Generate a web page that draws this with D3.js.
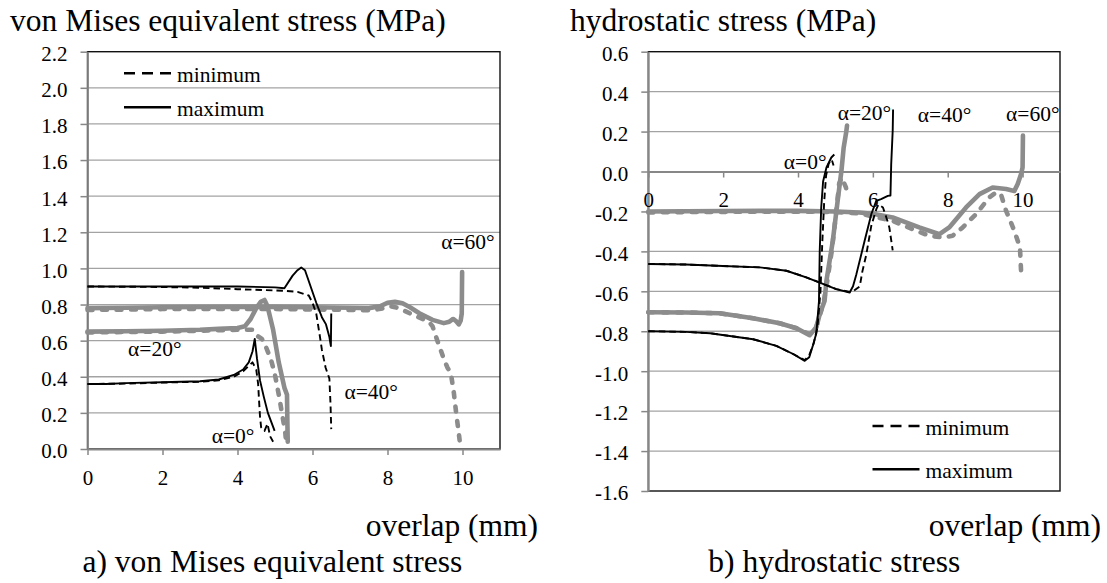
<!DOCTYPE html>
<html><head><meta charset="utf-8">
<script src="https://cdn.jsdelivr.net/npm/d3@7"></script>
<style>
body{margin:0;background:#fff}
svg{display:block}
text{font-family:"Liberation Serif","Times New Roman",Times,serif;fill:#000}
</style>
</head><body>
<svg id="c" width="1107" height="583"></svg>
<script>
// ---------- tick values ----------
const xTicks = [0, 2, 4, 6, 8, 10];
const vmTicks = [0.0, 0.2, 0.4, 0.6, 0.8, 1.0, 1.2, 1.4, 1.6, 1.8, 2.0, 2.2];
const hsTicks = [-1.6, -1.4, -1.2, -1.0, -0.8, -0.6, -0.4, -0.2, 0.0, 0.2, 0.4, 0.6];

// ---------- a) von Mises equivalent stress (MPa) ----------
const vm_a0_max = [[0,0.36],[0.5,0.36],[1,0.365],[2,0.37],[3,0.375],[3.5,0.385],[3.9,0.41],[4.15,0.44],[4.3,0.48],[4.4,0.54],[4.46,0.61],[4.52,0.5],[4.6,0.38],[4.7,0.29],[4.81,0.2],[4.9,0.15],[4.99,0.1]];
const vm_a0_min = [[0,0.36],[1,0.362],[2,0.368],[3,0.372],[3.5,0.38],[3.9,0.4],[4.15,0.43],[4.3,0.46],[4.4,0.48],[4.5,0.44],[4.55,0.36],[4.58,0.25],[4.6,0.18],[4.63,0.12],[4.72,0.1],[4.8,0.14],[4.87,0.07],[4.95,0.04]];
const vm_a40_max = [[0,0.9],[1,0.9],[2,0.9],[3,0.9],[4,0.9],[5,0.895],[5.25,0.89],[5.47,0.96],[5.6,0.99],[5.7,1.005],[5.8,0.99],[5.95,0.9],[6.1,0.81],[6.25,0.73],[6.36,0.69],[6.45,0.62],[6.49,0.57],[6.5,0.75]];
const vm_a40_min = [[0,0.9],[2,0.897],[3,0.893],[4,0.885],[5,0.878],[5.3,0.875],[5.6,0.87],[5.9,0.85],[6.0,0.81],[6.1,0.75],[6.2,0.62],[6.25,0.55],[6.35,0.45],[6.45,0.39],[6.48,0.25],[6.5,0.11]];
const vm_a20_max = [[0,0.65],[1,0.652],[2,0.655],[3,0.66],[3.5,0.665],[4,0.67],[4.2,0.68],[4.35,0.72],[4.5,0.78],[4.62,0.815],[4.72,0.825],[4.8,0.79],[4.95,0.66],[5.1,0.48],[5.25,0.34],[5.32,0.3],[5.33,0.15],[5.34,0.04]];
const vm_a20_min = [[0,0.645],[1,0.648],[2,0.65],[3,0.655],[4,0.66],[4.4,0.66],[4.5,0.63],[4.65,0.61],[4.75,0.57],[4.9,0.49],[5.0,0.41],[5.12,0.28],[5.2,0.18],[5.27,0.1],[5.3,0.03]];
const vm_a60_max = [[0,0.78],[1,0.782],[2,0.785],[3,0.786],[4,0.787],[5,0.787],[6,0.785],[7,0.782],[7.5,0.78],[7.8,0.79],[8.0,0.81],[8.2,0.815],[8.4,0.807],[8.6,0.785],[8.85,0.752],[9.2,0.715],[9.5,0.697],[9.65,0.705],[9.75,0.72],[9.82,0.71],[9.9,0.69],[9.95,0.71],[9.98,0.75],[9.99,0.98]];
const vm_a60_min = [[0,0.77],[1,0.772],[2,0.775],[3,0.776],[4,0.775],[5,0.775],[6,0.773],[7,0.77],[7.6,0.768],[7.9,0.78],[8.1,0.79],[8.3,0.78],[8.66,0.745],[9.1,0.705],[9.2,0.68],[9.33,0.6],[9.5,0.5],[9.6,0.45],[9.69,0.42],[9.77,0.31],[9.83,0.2],[9.9,0.09],[9.95,0.0]];
const vmLabels = [["α=0°",3.31,0.035],["α=20°",1.08,0.515],["α=40°",6.85,0.277],["α=60°",9.43,1.108]];

// ---------- b) hydrostatic stress (MPa) ----------
const hs_a0_max = [[0,-0.8],[1,-0.803],[1.65,-0.81],[2.8,-0.84],[3.42,-0.873],[3.87,-0.914],[4.18,-0.948],[4.3,-0.93],[4.4,-0.87],[4.49,-0.81],[4.56,-0.65],[4.58,-0.4],[4.62,-0.18],[4.67,-0.05],[4.76,0.02],[4.89,0.07],[4.97,0.085]];
const hs_a0_min = [[0,-0.8],[1,-0.803],[1.65,-0.81],[2.8,-0.84],[3.42,-0.873],[3.87,-0.914],[4.18,-0.945],[4.3,-0.92],[4.42,-0.86],[4.52,-0.78],[4.6,-0.6],[4.65,-0.35],[4.7,-0.15],[4.75,-0.02],[4.82,0.04],[4.9,0.06],[4.95,0.03]];
const hs_a40_max = [[0,-0.463],[1,-0.466],[1.82,-0.472],[2.98,-0.48],[3.69,-0.497],[4.22,-0.53],[4.58,-0.556],[5.02,-0.589],[5.38,-0.606],[5.47,-0.575],[5.56,-0.514],[5.78,-0.347],[5.96,-0.213],[6.09,-0.147],[6.22,-0.138],[6.4,-0.122],[6.47,-0.12],[6.49,0.037],[6.53,0.204],[6.54,0.31]];
const hs_a40_min = [[0,-0.463],[1,-0.466],[1.82,-0.472],[2.98,-0.48],[3.69,-0.497],[4.22,-0.53],[4.58,-0.556],[5.02,-0.589],[5.38,-0.603],[5.47,-0.6],[5.65,-0.575],[5.72,-0.5],[5.82,-0.42],[5.96,-0.27],[6.09,-0.19],[6.15,-0.165],[6.27,-0.18],[6.36,-0.23],[6.44,-0.28],[6.53,-0.395]];
const hs_a20_max = [[0,-0.705],[1,-0.706],[1.91,-0.71],[2.8,-0.735],[3.51,-0.76],[3.96,-0.785],[4.31,-0.82],[4.49,-0.78],[4.58,-0.714],[4.71,-0.648],[4.76,-0.547],[4.93,-0.347],[5.07,-0.13],[5.16,0.003],[5.22,0.12],[5.29,0.2],[5.31,0.23]];
const hs_a20_min = [[0,-0.705],[1,-0.706],[1.91,-0.71],[2.8,-0.735],[3.51,-0.76],[3.96,-0.785],[4.31,-0.815],[4.45,-0.8],[4.55,-0.74],[4.68,-0.66],[4.78,-0.55],[4.9,-0.4],[4.98,-0.27],[5.05,-0.15],[5.1,-0.06],[5.17,-0.03],[5.28,-0.08],[5.33,-0.12]];
const hs_a60_max = [[0,-0.2],[1,-0.199],[2,-0.198],[3,-0.197],[4,-0.197],[5,-0.2],[5.64,-0.205],[6.0,-0.212],[6.53,-0.23],[7.24,-0.28],[7.78,-0.314],[8.04,-0.28],[8.49,-0.18],[8.85,-0.113],[9.2,-0.08],[9.56,-0.088],[9.78,-0.097],[9.87,-0.063],[9.96,-0.013],[10,0.02],[10.01,0.18]];
const hs_a60_min = [[0,-0.205],[1,-0.203],[2,-0.202],[3,-0.201],[4,-0.201],[5,-0.203],[5.64,-0.21],[6.0,-0.225],[6.53,-0.247],[7.16,-0.297],[7.51,-0.322],[7.87,-0.33],[8.13,-0.322],[8.4,-0.28],[8.76,-0.213],[9.11,-0.13],[9.29,-0.105],[9.42,-0.113],[9.56,-0.197],[9.78,-0.297],[9.93,-0.38],[9.97,-0.54]];
const hsLabels = [["α=0°",3.62,0.0135],["α=20°",5.06,0.259],["α=40°",7.2,0.249],["α=60°",9.56,0.254]];

const legendNames = ["minimum","maximum"];

// ---------- drawing ----------
const svg = d3.select("#c");
const GRID = "#a3a3a3", AXIS = "#878787", GRAY = "#8c8c8c";
const fmt = d => d.toFixed(1);

function panel(o) {
  const x = d3.scaleLinear().domain([0, 11]).range([o.x0, o.x1]);
  const y = d3.scaleLinear().domain(o.yDom).range([o.y0, o.y1]);
  const g = svg.append("g");
  // gridlines
  g.selectAll("line.grid").data(o.yTicks.filter(v => v !== o.yDom[0] && v !== o.yDom[1] && v !== 0))
    .join("line").attr("x1", o.x0).attr("x2", o.x1).attr("y1", d => y(d)).attr("y2", d => y(d))
    .attr("stroke", GRID).attr("stroke-width", 1.3);
  // frame
  g.append("rect").attr("x", o.x0).attr("y", o.y1).attr("width", o.x1 - o.x0).attr("height", o.y0 - o.y1)
    .attr("fill", "none").attr("stroke", "#111").attr("stroke-width", 1.4);
  // y axis
  const ya = g.append("g").attr("transform", `translate(${o.x0},0)`)
    .call(d3.axisLeft(y).tickValues(o.yTicks).tickFormat(fmt).tickSize(7).tickSizeOuter(0).tickPadding(13));
  ya.selectAll(".tick text").attr("dy", "0.42em");
  // x axis at y=0
  const xa = g.append("g").attr("transform", `translate(0,${y(0)})`)
    .call(d3.axisBottom(x).tickValues(xTicks).tickFormat(d3.format("d")).tickSize(6).tickSizeOuter(0).tickPadding(15));
  [ya, xa].forEach(a => {
    a.attr("font-family", null).attr("font-size", null);
    a.select(".domain").attr("stroke", AXIS).attr("stroke-width", 1.8);
    a.selectAll(".tick line").attr("stroke", AXIS).attr("stroke-width", 1.5);
    a.selectAll(".tick text").style("font-size", "21px").attr("fill", "#000");
  });
  // series
  const line = d3.line().x(d => x(d[0])).y(d => y(d[1]));
  const sg = g.append("g").attr("fill", "none").attr("stroke-linejoin", "round");
  o.gray.forEach(([data, dashed]) => {
    sg.append("path").attr("d", line(data)).attr("stroke", GRAY).attr("stroke-width", 4.6)
      .attr("stroke-linecap", "round").attr("stroke-dasharray", dashed ? "5,9.5" : null);
  });
  o.black.forEach(([data, dashed]) => {
    sg.append("path").attr("d", line(data)).attr("stroke", "#000").attr("stroke-width", 1.9)
      .attr("stroke-dasharray", dashed ? "6.5,4" : null);
  });
  // alpha labels
  g.selectAll("text.al").data(o.labels).join("text").attr("class", "al")
    .attr("x", d => x(d[1])).attr("y", d => y(d[2])).style("font-size", "21.5px").text(d => d[0]);
  // legend
  o.legend.forEach((ly, i) => {
    g.append("line").attr("x1", o.lx).attr("x2", o.lx + 47).attr("y1", ly).attr("y2", ly)
      .attr("stroke", "#000").attr("stroke-width", 2.6).attr("stroke-dasharray", i === 0 ? "11,7" : null);
    g.append("text").attr("x", o.lx + 53).attr("y", ly + 8.6).style("font-size", "21.5px").text(legendNames[i]);
  });
  // titles
  g.append("text").attr("x", o.tx).attr("y", 31).style("font-size", "31.5px").text(o.title);
  g.append("text").attr("x", o.ox).attr("y", 536).attr("text-anchor", "end").style("font-size", "31.5px").text("overlap (mm)");
  g.append("text").attr("x", o.cx).attr("y", 572).style("font-size", "31.5px").text(o.caption);
}

panel({
  x0: 87.5, x1: 500, y0: 449, y1: 51.7, yDom: [0, 2.2], yTicks: vmTicks,
  gray: [[vm_a20_max, false], [vm_a20_min, true], [vm_a60_max, false], [vm_a60_min, true]],
  black: [[vm_a0_max, false], [vm_a0_min, true], [vm_a40_max, false], [vm_a40_min, true]],
  labels: vmLabels, legend: [73.3, 107.3], lx: 124,
  title: "von Mises equivalent stress (MPa)", tx: 10, ox: 538, cx: 82.5,
  caption: "a) von Mises equivalent stress"
});
panel({
  x0: 648.3, x1: 1060, y0: 491, y1: 51.7, yDom: [-1.6, 0.6], yTicks: hsTicks,
  gray: [[hs_a20_max, false], [hs_a20_min, true], [hs_a60_max, false], [hs_a60_min, true]],
  black: [[hs_a0_max, false], [hs_a0_min, true], [hs_a40_max, false], [hs_a40_min, true]],
  labels: hsLabels, legend: [426, 469.3], lx: 872.5,
  title: "hydrostatic stress (MPa)", tx: 570, ox: 1101, cx: 708.3,
  caption: "b) hydrostatic stress"
});
</script>
</body></html>
